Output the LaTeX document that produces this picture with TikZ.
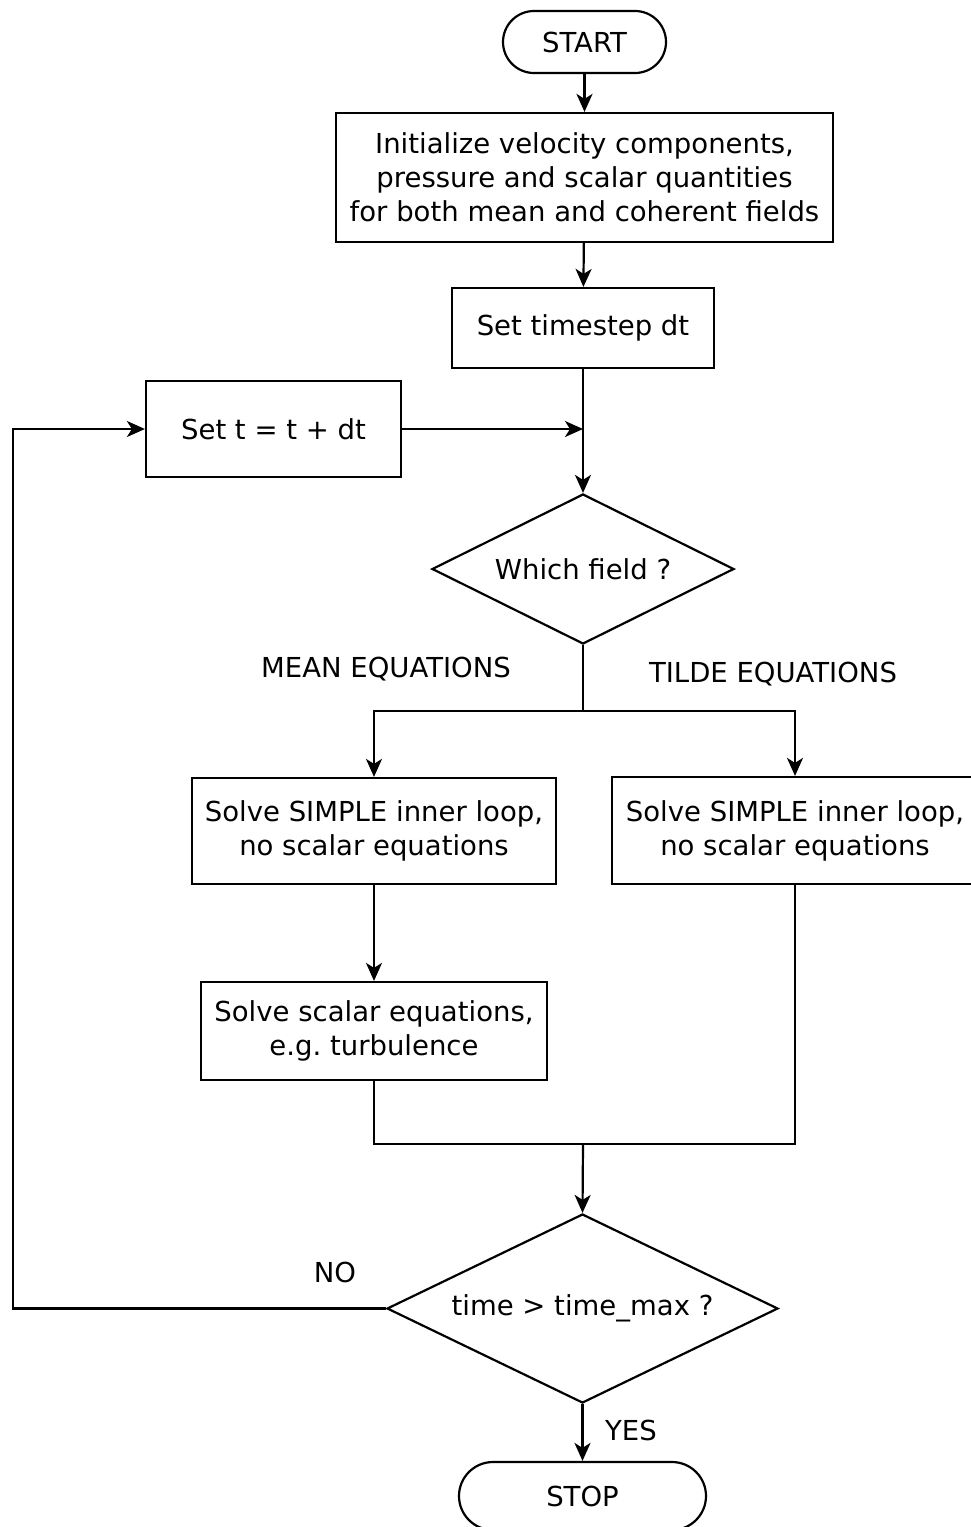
\documentclass[tikz,border=0pt]{standalone}
\usepackage{fontspec}
\setmainfont{DejaVu Sans}
\usetikzlibrary{shapes.geometric,arrows.meta}
\frenchspacing
\begin{document}
\begin{tikzpicture}[x=1pt,y=-1pt,
  every node/.style={font=\fontsize{27.5}{34}\selectfont, text=black},
  line width=2.2pt,
  proc/.style={draw, rectangle, inner sep=0pt, align=center},
  term/.style={draw, rectangle, rounded corners=31pt, inner sep=0pt},
  decide/.style={draw, diamond, inner sep=0pt},
  lbl/.style={inner sep=0pt},
  arr/.style={-{Stealth[length=18pt,width=16pt,inset=5pt]}}]
\useasboundingbox (0,0) rectangle (971,1527);
\clip (0,0) rectangle (971,1527);

% process steps
\node[term, minimum width=163pt, minimum height=62pt] (start) at (584.5,42) {START};
\node[proc, minimum width=497pt, minimum height=129pt] (init) at (584.5,177.5)
  {Initialize velocity components,\\pressure and scalar quantities\\for both mean and coherent fields};
\node[proc, minimum width=262pt, minimum height=80pt] (ts) at (583,328) {Set timestep dt};
\node[proc, minimum width=255pt, minimum height=96pt] (sett) at (273.5,429) {Set t = t + dt};
\node[decide, aspect=2.01, minimum width=302pt, minimum height=150pt] (d1) at (583,569) {Which field ?};
\node[proc, minimum width=364pt, minimum height=106pt] (mean) at (374,831)
  {Solve SIMPLE inner loop,\\no scalar equations};
\node[proc, minimum width=366pt, minimum height=107pt] (tilde) at (795,830.5)
  {Solve SIMPLE inner loop,\\no scalar equations};
\node[proc, minimum width=346pt, minimum height=98pt] (scal) at (374,1031)
  {Solve scalar equations,\\e.g. turbulence};
\node[decide, aspect=2.07, minimum width=391pt, minimum height=189pt] (d2) at (582.5,1308.5) {time > time\_max ?};
\node[term, minimum width=247pt, minimum height=68pt, rounded corners=34pt] (stop) at (582.5,1496) {STOP};

% branch labels
\node[lbl] (lmean) at (386,669) {MEAN EQUATIONS};
\node[lbl] (ltilde) at (773,674) {TILDE EQUATIONS};
\node[lbl] (lno) at (335,1272) {NO};
\node[lbl] (lyes) at (631,1430) {YES};

% junction points
\coordinate (split) at (583,711);
\coordinate (join) at (583,1144);
\coordinate (back) at (13,1308.5);

% connectors
\draw[arr] (start) -- (init);
\draw[arr] (init) -- (ts);
\draw[arr] (ts) -- (d1.north);
\draw[arr] (sett.east) -- (sett.east -| ts.south);
\draw (d1.south) -- (split);
\draw[arr] (split) -| (mean.north);
\draw[arr] (split) -| (tilde.north);
\draw[arr] (mean) -- (scal);
\draw (scal.south) |- (join) -| (tilde.south);
\draw[arr] (join) -- (d2.north);
\draw[arr] (d2.west) -- (back) |- (sett.west);
\draw[arr] (d2.south) -- (stop.north);
\end{tikzpicture}
\end{document}
